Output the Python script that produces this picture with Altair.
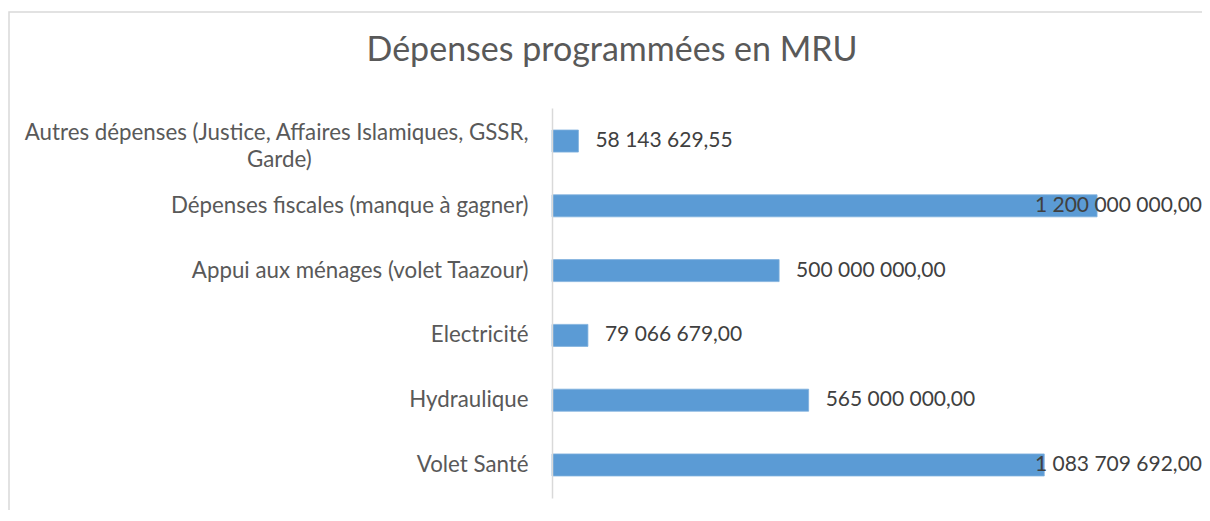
import altair as alt
import pandas as pd

CATEGORIES = [
    "Autres dépenses (Justice, Affaires Islamiques, GSSR,|Garde)",
    "Dépenses fiscales (manque à gagner)",
    "Appui aux ménages (volet Taazour)",
    "Electricité",
    "Hydraulique",
    "Volet Santé",
]
VALUES = [58143629.55, 1200000000.00, 500000000.00, 79066679.00, 565000000.00, 1083709692.00]
TITLE = "Dépenses programmées en MRU"
X_MAX = 1.431e9
FIT_LIMIT = 1.0e9


def fr(v):
    return f"{v:,.2f}".replace(",", " ").replace(".", ",")


df = pd.DataFrame({"cat": CATEGORIES, "val": VALUES, "lbl": [fr(v) for v in VALUES],
                   "xm": [X_MAX] * len(VALUES)})

FONT = "Lato"
W, H = 650, 390
# non-breaking spaces closed by a zero-width space so Vega does not trim them:
# this centres the second line under the first, as in the original
PAD = "\u00a0" * 38 + "\u200b"

label_expr = (
    "indexof(datum.label, '|') >= 0 ? "
    "[slice(datum.label, 0, indexof(datum.label, '|')), "
    f"slice(datum.label, indexof(datum.label, '|') + 1) + '{PAD}'] : datum.label"
)

y_enc = alt.Y("cat:N", sort=CATEGORIES, title=None,
              scale=alt.Scale(paddingInner=0.66, paddingOuter=0.34),
              axis=alt.Axis(labelExpr=label_expr,
                            labelFont=FONT, labelFontSize=22.3, labelColor="#595959",
                            labelPadding=24, labelLineHeight=27, ticks=False, zindex=2,
                            labelOffset={"condition": {"test": "indexof(datum.value, '|') >= 0", "value": -8}, "value": 0},
                            domainColor="#d9d9d9", domainWidth=1.5, labelLimit=700))
x_scale = alt.Scale(domain=[0, X_MAX], nice=False, zero=True)

base = alt.Chart(df)

frame = base.transform_filter("datum.val == " + str(VALUES[0])).mark_rect(
    fillOpacity=0, stroke="#d9d9d9", strokeWidth=1.5
).encode(
    x=alt.value(-543), x2=alt.value(W + 200), y=alt.value(-96), y2=alt.value(H + 200)
)

bars = base.mark_bar(color="#5b9bd5", stroke="#7fb0dd", strokeWidth=0.8).encode(
    x=alt.X("val:Q", scale=x_scale, axis=None),
    y=y_enc,
)

labels_out = base.transform_filter(f"datum.val < {FIT_LIMIT}").mark_text(
    align="left", baseline="middle", dx=17, font=FONT, fontSize=21, color="#404040"
).encode(x=alt.X("val:Q", scale=x_scale), y=alt.Y("cat:N", sort=CATEGORIES), text="lbl:N")

labels_in = base.transform_filter(f"datum.val >= {FIT_LIMIT}").mark_text(
    align="right", baseline="middle", font=FONT, fontSize=21, color="#404040"
).encode(x=alt.X("xm:Q", scale=x_scale), y=alt.Y("cat:N", sort=CATEGORIES), text="lbl:N")

chart = alt.layer(frame, bars, labels_out, labels_in).properties(
    width=W, height=H,
    title=alt.TitleParams(TITLE, font=FONT, fontSize=34, fontWeight="normal", color="#595959",
                          anchor="middle", frame="group", dx=612 - (552 + W / 2), offset=0,
                          dy=84, baseline="alphabetic"),
    autosize=alt.AutoSizeParams(type="none"),
    padding={"left": 544, "top": 100, "right": 0, "bottom": 12},
    background="white",
).configure_view(stroke=None)

chart.save("out.html", embed_options={"renderer": "svg", "actions": False})
